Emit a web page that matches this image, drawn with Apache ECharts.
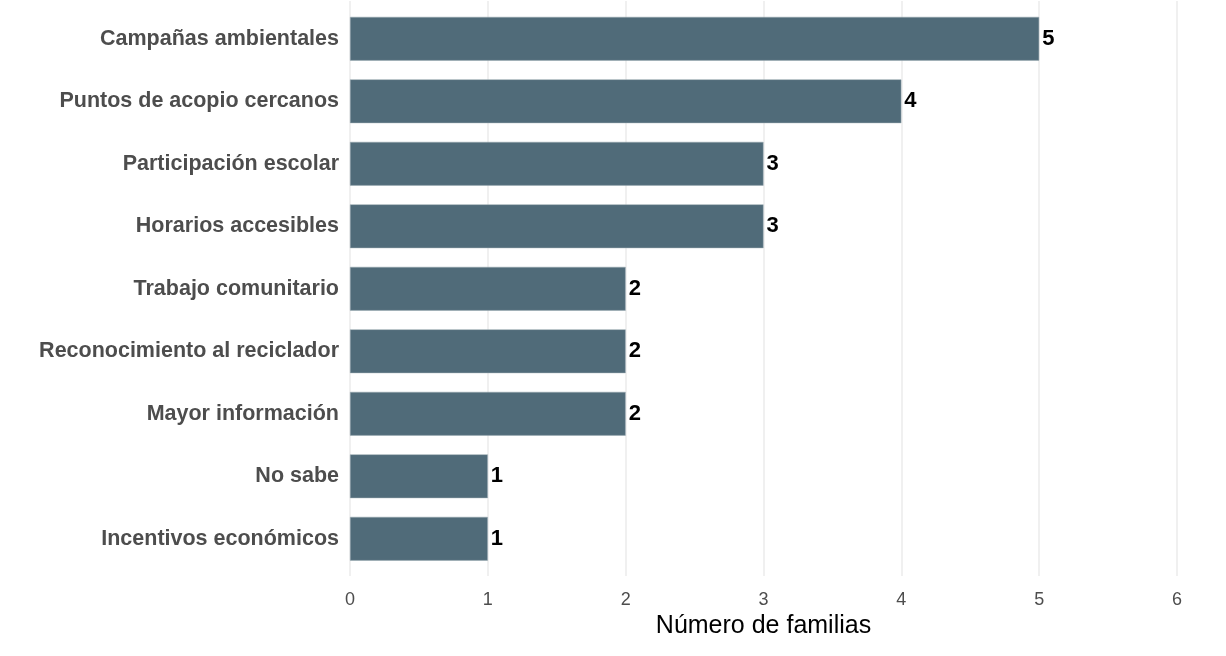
<!DOCTYPE html>
<html>
<head>
<meta charset="utf-8">
<script src="https://cdn.jsdelivr.net/npm/echarts@6/dist/echarts.min.js"></script>
<style>
    html, body { margin: 0; padding: 0; background: #fff; }
    #chart { width: 1226px; height: 656px; }
</style>
</head>
<body>
<div id="chart"></div>
<script>
// categorias de arriba hacia abajo
var categorias = ['Campañas ambientales', 'Puntos de acopio cercanos', 'Participación escolar',
    'Horarios accesibles', 'Trabajo comunitario', 'Reconocimiento al reciclador',
    'Mayor información', 'No sabe', 'Incentivos económicos'];
var familias = [5, 4, 3, 3, 2, 2, 2, 1, 1];
var ticksX = [0, 1, 2, 3, 4, 5, 6];

var myChart = echarts.init(document.getElementById('chart'));

var option = {
    animation: false,
    textStyle: { fontFamily: 'Liberation Sans' },
    // grid 0: solo rejilla y eje x (panel completo), grid 1: barras
    grid: [{
        left: 350,
        right: 49,
        top: 1,
        height: 575
    }, {
        left: 350,
        right: 49,
        top: 7.5,
        height: 562.5
    }],
    xAxis: [{
        gridIndex: 0,
        type: 'value',
        min: ticksX[0],
        max: ticksX[ticksX.length - 1],
        interval: 1,
        name: 'Número de familias',
        nameLocation: 'middle',
        nameGap: 28,
        nameTextStyle: { color: '#000', fontSize: 25 },
        axisLine: { show: false },
        axisTick: { show: false },
        axisLabel: { color: '#4d4d4d', fontSize: 18, margin: 15 },
        splitLine: { show: true, lineStyle: { color: '#ebebeb', width: 1.5 } }
    }, {
        gridIndex: 1,
        type: 'value',
        min: ticksX[0],
        max: ticksX[ticksX.length - 1],
        interval: 1,
        show: false,
        splitLine: { show: false }
    }],
    yAxis: [{
        gridIndex: 0,
        type: 'value',
        show: false,
        splitLine: { show: false }
    }, {
        gridIndex: 1,
        type: 'category',
        inverse: true,
        data: categorias,
        axisLine: { show: false },
        axisTick: { show: false },
        axisLabel: {
            color: '#4d4d4d',
            fontSize: 21.5,
            fontWeight: 'bold',
            margin: 11,
            padding: [4, 0, 0, 0]
        }
    }],
    series: [{
        type: 'bar',
        xAxisIndex: 1,
        yAxisIndex: 1,
        data: familias,
        barWidth: '70%',
        itemStyle: { color: '#506b79', borderColor: '#9aaab3', borderWidth: 0.5 },
        label: {
            show: true,
            position: 'right',
            distance: 3,
            color: '#000',
            fontSize: 22,
            fontWeight: 'bold',
            padding: [5, 0, 0, 0]
        }
    }]
};

myChart.setOption(option);
</script>
</body>
</html>
